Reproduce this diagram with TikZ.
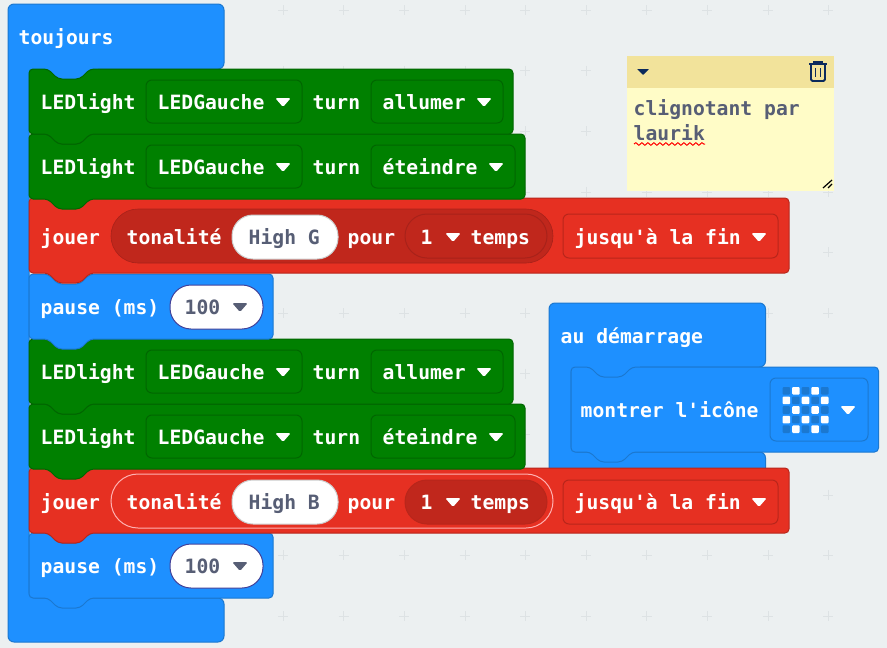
\documentclass[tikz,border=0pt]{standalone}
\usepackage{fontspec}
\setmainfont{DejaVu Sans Mono}
\usetikzlibrary{decorations.pathmorphing}
\definecolor{workspace}{HTML}{ECF0F1}
\definecolor{gridmark}{HTML}{DDE2E4}
\definecolor{mbblue}{HTML}{1E90FF}
\definecolor{mbblueline}{HTML}{1B78D0}
\definecolor{mbgreen}{HTML}{008000}
\definecolor{mbgreenline}{HTML}{006600}
\definecolor{mbred}{HTML}{E63022}
\definecolor{mbredline}{HTML}{B8261B}
\definecolor{mbdarkred}{HTML}{C0271C}
\definecolor{mbdeepred}{HTML}{A8221A}
\definecolor{fieldtext}{HTML}{575E75}
\definecolor{notehead}{HTML}{F2E39B}
\definecolor{notebody}{HTML}{FFFCC7}
\definecolor{navy}{HTML}{0B2A5C}

% block with notch on top and tab below: style, corner, width, height
\newcommand{\stackblock}[4]{
    \draw[#1, shift={#2}] (0,10) -- (0,0) -- (19,0) -- (29,10) -- (51,10) -- (61,0) -- (#3,0) -- (#3,#4)
        -- (61,#4) -- (51,#4+10) -- (29,#4+10) -- (19,#4) -- (0,#4) -- cycle;
}
% dropdown arrow: colour, centre
\newcommand{\droptri}[2]{
    \fill[#1, shift={#2}, rounded corners=1.5pt] (-7.8,-4) -- (7.8,-4) -- (0,5) -- cycle;
}
% one LED block: name, top, state word, width, end of state field, arrow of state field
\newcommand{\ledblock}[6]{
    \stackblock{ledblock}{(29,#2)}{#4}{65}
    \draw[ledfield] (146,#2+11) rectangle (302,#2+54);
    \draw[ledfield] (371,#2+11) rectangle (#5,#2+54);
    \node[label] (#1light) at (41,#2+39) {LEDlight};
    \node[label] (#1side) at (158,#2+39) {LEDGauche};
    \droptri{white}{(283,#2+33)}
    \node[label] (#1turn) at (313,#2+39) {turn};
    \node[label] (#1state) at (383,#2+39) {#3};
    \droptri{white}{(#6,#2+33)}
}
% pause block: name, top
\newcommand{\pauseblock}[2]{
    \stackblock{blueblock}{(29,#2)}{244}{65}
    \draw[numpill] (170,#2+11) rectangle (263,#2+55);
    \node[label] (#1text) at (41,#2+39) {pause (ms)};
    \node[label, text=fieldtext] (#1value) at (185,#2+39) {100};
    \droptri{fieldtext}{(240,#2+33)}
}

\begin{document}
\begin{tikzpicture}[
    x=1pt, y=-1pt,
    label/.style={anchor=base west, inner sep=0pt, xshift=-0.5pt, yshift=-1pt, text=white, font=\bfseries\fontsize{19.7}{22}\selectfont},
    hatblock/.style={draw=mbblueline, fill=mbblue, line width=1pt, rounded corners=6pt},
    blueblock/.style={draw=mbblueline, fill=mbblue, line width=1pt, rounded corners=4pt},
    ledblock/.style={draw=mbgreenline, fill=mbgreen, line width=1pt, rounded corners=4pt},
    redblock/.style={draw=mbredline, fill=mbred, line width=1pt, rounded corners=4pt},
    ledfield/.style={draw=mbgreenline, line width=1pt, rounded corners=6pt},
    redfield/.style={draw=mbredline, line width=1pt, rounded corners=6pt},
    numpill/.style={draw=black!30!blue!50!gray, fill=white, line width=1pt, rounded corners=21pt},
    notepill/.style={draw=black!20, fill=white, line width=1pt, rounded corners=21pt}
]
    \useasboundingbox (0,0) rectangle (887,648);
    \fill[workspace] (0,0) rectangle (887,648);

    % Grid
    \foreach \gx in {283,343.6,...,880}
        \foreach \gy in {10,70.6,...,640}
            \draw[gridmark] (\gx-5,\gy) -- (\gx+5,\gy) (\gx,\gy-5) -- (\gx,\gy+5);

    % Comment
    \fill[notebody] (627,56) rectangle (834,191);
    \fill[notehead] (627,56) rectangle (834,88);
    \fill[navy, rounded corners=0.5pt] (637,69) -- (649,69) -- (643,75) -- cycle;
    \draw[navy, line width=1.8pt] (809,64) -- (827,64) (814,63.5) -- (814,62) -- (822,62) -- (822,63.5);
    \draw[navy, line width=1.8pt, rounded corners=1.5pt] (811,64) -- (811,81) -- (825,81) -- (825,64);
    \draw[navy, line width=1.6pt] (815.5,68) -- (815.5,77) (820.5,68) -- (820.5,77);
    \node[label, text=fieldtext] (notefirst) at (634,114) {clignotant par};
    \node[label, text=fieldtext] (notesecond) at (634,139) {laurik};
    \draw[red, line width=1pt, decorate, decoration={snake, segment length=6pt, amplitude=1.3pt}] (634,144) -- (705,144);
    \draw[black, line width=1.2pt] (823,188) -- (832,180) (828,188) -- (832,184);

    % Start block
    \draw[hatblock] (549,400) -- (549,303) -- (765.5,303) -- (765.5,367) -- (571,367) -- (571,452) -- (765.5,452)
        -- (765.5,494) -- (549,494) -- cycle;
    \fill[mbblue] (573,360) rectangle (640,380);
    \node[label] (starttext) at (561,342) {au démarrage};
    \stackblock{blueblock}{(571,367)}{307.5}{85}
    \node[label] (icontext) at (581,416) {montrer l\textquotesingle icône};
    \draw[draw=mbblueline, line width=1pt, rounded corners=6pt] (770,378) rectangle (868,441);
    \foreach \col in {0,...,4}
        \foreach \row in {0,...,4} {
            \pgfmathparse{int(mod(\col+\row,2))}
            \ifnum\pgfmathresult=1 \def\cellcolor{white}\else \def\cellcolor{mbblueline}\fi
            \fill[\cellcolor, rounded corners=1pt] (782.5+\col*9.6,387+\row*9.6) rectangle +(7.6,7.6);
        }
    \droptri{white}{(848,410)}

    % Forever block
    \draw[hatblock] (8,300) -- (8,4) -- (224,4) -- (224,69) -- (29,69) -- (29,598) -- (224,598) -- (224,642)
        -- (8,642) -- cycle;
    \fill[mbblue] (31,62) rectangle (98,82);
    \node[label] (forevertext) at (19,43) {toujours};

    % Lower stack
    \pauseblock{pausetwo}{533}

    \stackblock{redblock}{(29,468)}{760}{65}
    \draw[draw=red!30!white, fill=mbred, line width=1pt, rounded corners=27pt] (111,474) rectangle (553,528);
    \draw[notepill] (232,480) rectangle (338,524);
    \draw[draw=mbredline, fill=mbdarkred, line width=1pt, rounded corners=22pt] (405,480) rectangle (547,524);
    \draw[redfield] (563,480) rectangle (778,524);
    \node[label] (playtwo) at (41,508) {jouer};
    \node[label] (tonetwo) at (127,508) {tonalité};
    \node[label, text=fieldtext] (hightwo) at (249,508) {High B};
    \node[label] (fortwo) at (348,508) {pour};
    \node[label] (onetwo) at (421,508) {1};
    \droptri{white}{(453,502)}
    \node[label] (beattwo) at (471,508) {temps};
    \node[label] (endtwo) at (575,508) {jusqu\textquotesingle à la fin};
    \droptri{white}{(759,502)}

    \ledblock{ledfour}{404}{éteindre}{496}{515}{496}
    \ledblock{ledthree}{339}{allumer}{484}{503}{484}

    % Upper stack
    \pauseblock{pauseone}{274}

    \stackblock{redblock}{(29,198)}{760}{75}
    \draw[draw=mbdeepred, fill=mbdarkred, line width=0.6pt, rounded corners=27pt] (111,209) rectangle (553,263);
    \draw[notepill] (232,215) rectangle (338,259);
    \draw[draw=mbdeepred, fill=mbdarkred, line width=1pt, rounded corners=22pt] (405,214) rectangle (547,258);
    \draw[redfield] (563,214) rectangle (778,258);
    \node[label] (playone) at (41,243) {jouer};
    \node[label] (toneone) at (127,243) {tonalité};
    \node[label, text=fieldtext] (highone) at (249,243) {High G};
    \node[label] (forone) at (348,243) {pour};
    \node[label] (oneone) at (421,243) {1};
    \droptri{white}{(453,237)}
    \node[label] (beatone) at (471,243) {temps};
    \node[label] (endone) at (575,243) {jusqu\textquotesingle à la fin};
    \droptri{white}{(759,237)}

    \ledblock{ledtwo}{134}{éteindre}{496}{515}{496}
    \ledblock{ledone}{69}{allumer}{484}{503}{484}
\end{tikzpicture}
\end{document}
